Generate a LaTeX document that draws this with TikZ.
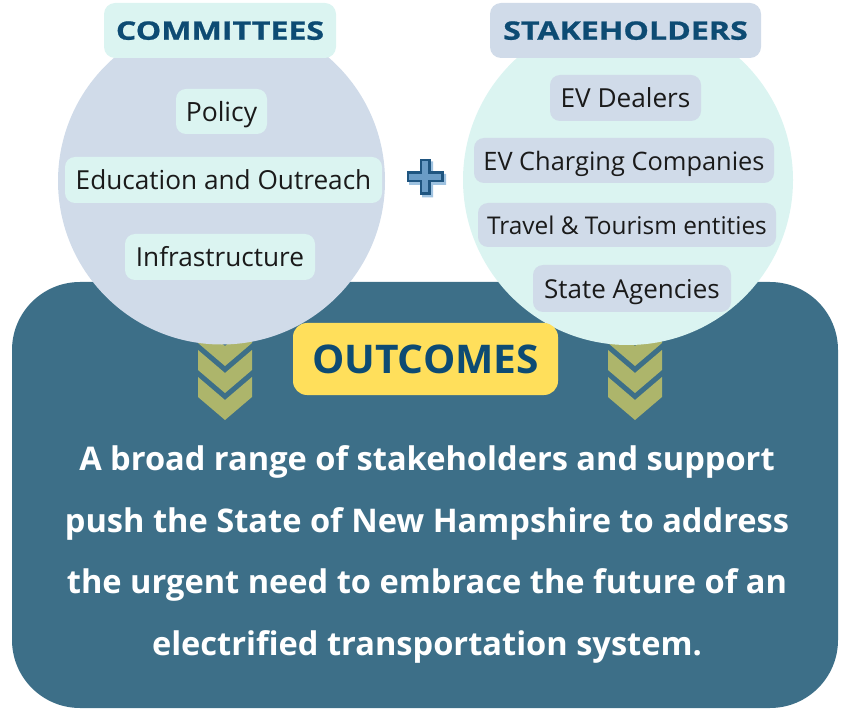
\documentclass[tikz,border=0pt]{standalone}
\usepackage{fontspec}
\newfontfamily\os{Open Sans}
\newfontfamily\ostitle[FakeStretch=1.26,FakeBold=0.8]{Open Sans}
\newfontfamily\osout[FakeStretch=1.03]{Open Sans}
\definecolor{rectcol}{HTML}{3D6F88}
\definecolor{lcirc}{HTML}{D0DBE9}
\definecolor{rcirc}{HTML}{DBF4F1}
\definecolor{chev}{HTML}{ADB56B}
\definecolor{yel}{HTML}{FFDF5B}
\definecolor{titlecol}{HTML}{0D4B73}
\definecolor{itemtext}{HTML}{1A1A1A}
\definecolor{plusdark}{HTML}{1F5580}
\definecolor{plusfill}{HTML}{6A9CC6}
\definecolor{plusshadow}{HTML}{9EC2E0}
\newcommand{\fsz}[1]{\fontsize{#1}{#1}\selectfont}
\begin{document}
\begin{tikzpicture}[x=1pt,y=-1pt,
  titlebox/.style={font=\ostitle\bfseries\fsz{25.5}, text=titlecol, rounded corners=11pt, inner sep=0pt, text height=18.5pt, text depth=0pt},
  itembox/.style={text=itemtext, rounded corners=10pt, inner sep=0pt, text height=20pt, text depth=0pt},
  bodyline/.style={font=\os\bfseries\fsz{32.6}, text=white, inner sep=0pt, anchor=base},
  chevshape/.style={fill=chev}
]
\useasboundingbox (0,0) rectangle (846,711);
% main panel
\fill[rectcol, rounded corners=68pt] (12,282) rectangle (838,708);
% chevrons
\foreach \cx in {225,635}{
  \foreach \k in {0,1,2}{
    \fill[chevshape] ({\cx-27},{377-27*\k}) -- ++(27,23) -- ++(27,-23) -- ++(0,20) -- ++(-27,23) -- ++(-27,-23) -- cycle;
  }
}
% circles
\fill[lcirc] (221.5,181) circle[radius=163.5pt];
\fill[rcirc] (628,180) circle[radius=165pt];
% plus sign
\begin{scope}[shift={(427.5,179.5)}]
\fill[plusshadow] (-5.5,-18) -- (5.5,-18) -- (5.5,-5.5) -- (18.5,-5.5) -- (18.5,5.5) -- (5.5,5.5) -- (5.5,18) -- (-5.5,18) -- (-5.5,5.5) -- (-18.5,5.5) -- (-18.5,-5.5) -- (-5.5,-5.5) -- cycle;
\end{scope}
\begin{scope}[shift={(425,177)}]
\filldraw[fill=plusfill, draw=plusdark, line width=2.6pt, line join=miter] (-4.2,-16.8) -- (4.2,-16.8) -- (4.2,-4.2) -- (17.2,-4.2) -- (17.2,4.2) -- (4.2,4.2) -- (4.2,16.8) -- (-4.2,16.8) -- (-4.2,4.2) -- (-17.2,4.2) -- (-17.2,-4.2) -- (-4.2,-4.2) -- cycle;
\end{scope}
% titles
\node[titlebox, fill=rcirc, minimum width=232pt, minimum height=55pt] (committees) at (220,30.5) {COMMITTEES};
\node[titlebox, fill=lcirc, minimum width=271pt, minimum height=55pt] (stakeholders) at (625.5,30.5) {STAKEHOLDERS};
% committee items
\node[itembox, font=\os\fsz{26.5}, fill=rcirc, minimum width=91pt, minimum height=45pt] (policy) at (221.5,111.5) {Policy};
\node[itembox, font=\os\fsz{26.2}, fill=rcirc, minimum width=317pt, minimum height=46pt] (education) at (223.5,180) {Education and Outreach};
\node[itembox, font=\os\fsz{26.2}, fill=rcirc, minimum width=190pt, minimum height=46pt] (infra) at (220,257) {Infrastructure};
% stakeholder items
\node[itembox, font=\os\fsz{26.2}, fill=lcirc, minimum width=151pt, minimum height=46pt] (dealers) at (625.5,98) {EV Dealers};
\node[itembox, font=\os\fsz{25.4}, fill=lcirc, minimum width=300pt, minimum height=45pt] (charging) at (624,160.5) {EV Charging Companies};
\node[itembox, font=\os\fsz{24.4}, fill=lcirc, minimum width=298pt, minimum height=44pt] (travel) at (627,225) {Travel \& Tourism entities};
\node[itembox, font=\os\fsz{26}, fill=lcirc, minimum width=198pt, minimum height=47pt] (agencies) at (632,288.5) {State Agencies};
% outcomes
\node[font=\osout\bfseries\fsz{39.5}, text=titlecol, fill=yel, rounded corners=14pt, inner sep=0pt, text height=28pt, text depth=0pt, minimum width=265pt, minimum height=72pt] (outcomes) at (425.5,359) {OUTCOMES};
% body text
\node[bodyline] (body1) at (427,470) {A broad range of stakeholders and support};
\node[bodyline] (body2) at (427,532) {push the State of New Hampshire to address};
\node[bodyline] (body3) at (427,593) {the urgent need to embrace the future of an};
\node[bodyline] (body4) at (427,655) {electrified transportation system.};
\end{tikzpicture}
\end{document}
